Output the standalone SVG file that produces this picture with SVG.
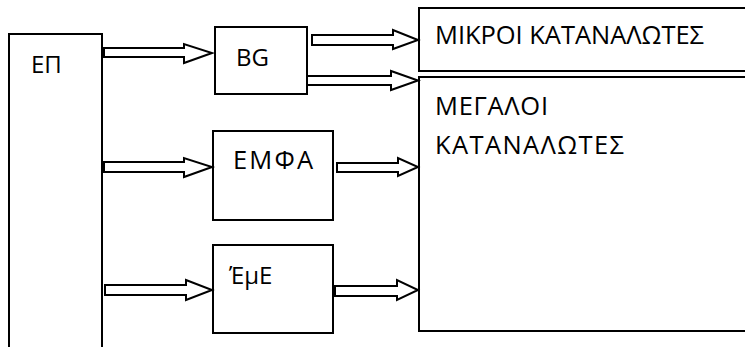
<svg xmlns="http://www.w3.org/2000/svg" width="745" height="347" viewBox="0 0 745 347">
<style>
.box{fill:#fff;stroke:#000;stroke-width:2}
.arr{fill:#fff;stroke:#000;stroke-width:2;stroke-linejoin:miter}
text{font-family:"Open Sans","Liberation Sans",sans-serif;font-size:24px;fill:#000}
.lg{font-size:25.5px}
</style>
<rect width="745" height="347" fill="#fff"/>
<g id="ep"><rect class="box" x="9" y="34" width="93" height="330"/><text x="31" y="73">ΕΠ</text></g>
<g id="bg"><rect class="box" x="215" y="27" width="92" height="67"/><text x="236" y="66">BG</text></g>
<g id="emfa"><rect class="box" x="213" y="131" width="120" height="89"/><text class="lg" x="233" y="169" textLength="80" lengthAdjust="spacing">ΕΜΦΑ</text></g>
<g id="eme"><rect class="box" x="213" y="245" width="120" height="88"/><text x="229" y="284">ΈμΕ</text></g>
<g id="mikroi"><rect class="box" x="419" y="8" width="340" height="63"/><text class="lg" x="435" y="44" textLength="269" lengthAdjust="spacing">ΜΙΚΡΟΙ ΚΑΤΑΝΑΛΩΤΕΣ</text></g>
<g id="megaloi"><rect class="box" x="419" y="77" width="340" height="254"/><text class="lg" x="435" y="115" textLength="113" lengthAdjust="spacing">ΜΕΓΑΛΟΙ</text><text class="lg" x="435" y="154" textLength="189" lengthAdjust="spacing">ΚΑΤΑΝΑΛΩΤΕΣ</text></g>
<g id="connectors">
<polygon class="arr" points="104,48 184,48 184,44 212,53 184,63 184,57 104,57"/>
<polygon class="arr" points="104,162 184,162 184,158 212,167 184,177 184,172 104,172"/>
<polygon class="arr" points="105,285 186,285 186,280 212,290 186,300 186,295 105,295"/>
<polygon class="arr" points="312,35 393,35 393,30 418,40 393,49 393,45 312,45"/>
<polygon class="arr" points="307,76 391,76 391,71 418,80.5 391,90 391,85 307,85"/>
<polygon class="arr" points="337,163 398,163 398,158 418,167 398,176 398,172 337,172"/>
<polygon class="arr" points="335,286 397,286 397,280 418,290 397,300 397,296 335,296"/>
</g>
</svg>
